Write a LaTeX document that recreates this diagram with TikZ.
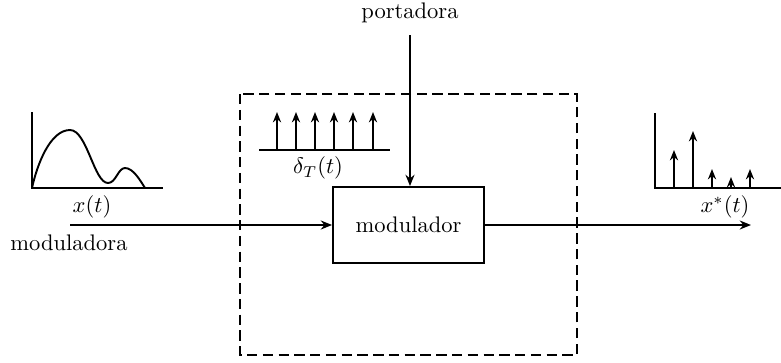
\documentclass[tikz,border=0pt]{standalone}
\usetikzlibrary{arrows.meta}
\begin{document}
\begin{tikzpicture}[x=0.444pt,y=-0.444pt,
  ln/.style={line width=0.85pt},
  arr/.style={ln,-{Stealth[length=5pt,width=4pt]}},
  imp/.style={ln,-{Stealth[length=4.6pt,width=3.6pt]}},
  dbox/.style={ln,dash pattern=on 4.6pt off 2.4pt},
  lbl/.style={inner sep=0pt}]
\useasboundingbox (0,0) rectangle (781,362);
% dashed region
\draw[dbox] (240,94) rectangle (577,355);
% modulator
\node[draw,ln,minimum width=151*0.444pt,minimum height=76*0.444pt,inner sep=0pt] (mod) at (408.5,225) {modulador};
% carrier
\node[lbl] (port) at (410,13) {portadora};
\coordinate (portS) at (410,35);
\draw[arr] (portS) -- (mod.north -| portS);
% input
\coordinate (inS) at (70,225);
\node[lbl] (modl) at (69,243) {moduladora};
\draw[arr] (inS) -- (mod.west);
% output
\coordinate (outE) at (751,225);
\draw[arr] (mod.east) -- (outE);
% x(t) plot
\coordinate (xo) at (32,188);
\coordinate (xtop) at (32,112);
\coordinate (xr) at (163,188);
\draw[ln] (xtop) -- (xo) -- (xr);
\draw[ln] (xo) .. controls (37,165) and (50,130) .. (70,130)
  .. controls (87,130) and (94,183) .. (108,183)
  .. controls (116,183) and (118,168) .. (125,168)
  .. controls (133,168) and (140,180) .. (145,188);
\node[lbl] (xl) at (92,207) {$x(t)$};
% impulse train
\coordinate (dl) at (259,150);
\coordinate (dr) at (390,150);
\draw[ln] (dl) -- (dr);
\foreach \x in {277,296,315,334,353,373}{
  \draw[imp] (\x,150) -- (\x,112);
}
\node[lbl] (dlab) at (318,168) {$\delta_T(t)$};
% x*(t) plot
\coordinate (so) at (655,188);
\coordinate (stop) at (655,113);
\coordinate (sr) at (781,188);
\draw[ln] (stop) -- (so) -- (sr);
\foreach \x/\y in {674/150,693/131,712/169,731/177,750/169}{
  \draw[imp] (\x,188) -- (\x,\y);
}
\node[lbl] (sl) at (725,207) {$x^*(t)$};
\end{tikzpicture}
\end{document}
